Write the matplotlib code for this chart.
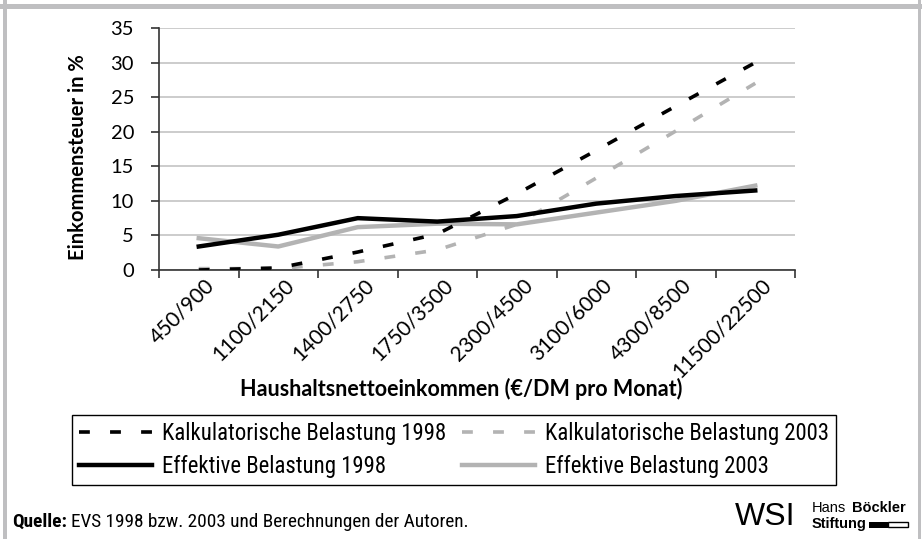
import matplotlib
matplotlib.use("Agg")
import matplotlib.pyplot as plt
from matplotlib.patches import Rectangle
from matplotlib.lines import Line2D
import matplotlib.transforms as mtransforms
from matplotlib import font_manager as fm

categories = ["450/900", "1100/2150", "1400/2750", "1750/3500",
              "2300/4500", "3100/6000", "4300/8500", "11500/22500"]
kalk_1998 = [0.0, 0.3, 2.6, 5.2, 11.0, 17.3, 23.7, 30.0]
kalk_2003 = [0.2, 0.2, 1.2, 2.9, 6.6, 13.3, 20.1, 27.0]
eff_1998 = [3.4, 5.1, 7.5, 7.0, 7.8, 9.6, 10.7, 11.5]
eff_2003 = [4.6, 3.4, 6.2, 6.7, 6.6, 8.3, 10.0, 12.2]
y_ticks = [0, 5, 10, 15, 20, 25, 30, 35]

labels = ["Kalkulatorische Belastung 1998", "Kalkulatorische Belastung 2003",
          "Effektive Belastung 1998", "Effektive Belastung 2003"]


def pick_condensed():
    cands = [("Roboto Condensed", "normal"), ("Open Sans Condensed", "normal"),
             ("Liberation Sans Narrow", "normal"), ("Open Sans", "condensed"),
             ("DejaVu Sans", "condensed"), ("Noto Sans", "condensed"),
             ("Roboto", "condensed")]
    for fam, st in cands:
        try:
            p = fm.findfont(fm.FontProperties(family=fam, stretch=st),
                            fallback_to_default=False)
        except Exception:
            continue
        low = p.lower()
        if st == "normal" or "condensed" in low or "narrow" in low:
            return [fam, "Lato", "DejaVu Sans"], st
    return ["Lato", "DejaVu Sans"], "normal"


FONT = ["Lato", "DejaVu Sans"]
NARROW, NSTRETCH = pick_condensed()
plt.rcParams["font.family"] = FONT

BLACK = "#000000"
GREY = "#b3b3b3"
FRAME = "#bfbfc1"

W, H = 922, 539
fig = plt.figure(figsize=(W / 100, H / 100), dpi=100)
renderer = fig.canvas.get_renderer()


def text_width(s, **kw):
    t = fig.text(0, 0, s, **kw)
    w = t.get_window_extent(renderer).width
    t.remove()
    return w


def fit_size(s, target_px, **kw):
    w = text_width(s, fontsize=10, **kw)
    return 10 * target_px / w


# frame
fig.add_artist(Rectangle((3 / W, 0), 4 / W, 1, transform=fig.transFigure,
                         color=FRAME, lw=0))
fig.add_artist(Rectangle((918 / W, 0), 3 / W, 1, transform=fig.transFigure,
                         color=FRAME, lw=0))
fig.add_artist(Rectangle((0, 1 - 9 / H), 1, 5 / H, transform=fig.transFigure,
                         color=FRAME, lw=0))

ax = fig.add_axes([159 / W, 1 - 270 / H, (795 - 159) / W, (270 - 28) / H])

x = [i + 0.5 for i in range(len(categories))]
DASH = (3.0, 5.6)
ax.plot(x, eff_2003, color=GREY, lw=3.2, solid_joinstyle="round", zorder=3)
ax.plot(x, eff_1998, color=BLACK, lw=3.2, solid_joinstyle="round", zorder=4)
ax.plot(x, kalk_2003, color=GREY, lw=2.6, dashes=DASH, dash_capstyle="butt", zorder=3)
ax.plot(x, kalk_1998, color=BLACK, lw=2.6, dashes=DASH, dash_capstyle="butt", zorder=5)

ax.set_xlim(0, len(categories))
ax.set_ylim(0, 35)
ax.set_yticks(y_ticks)
ax.set_yticklabels([str(v) for v in y_ticks], fontsize=14.5)
ax.grid(axis="y", color="#c8c8c8", lw=1.3)
ax.set_axisbelow(True)

ax.set_xticks(range(len(categories) + 1))
ax.set_xticklabels([])
ax.set_xticks(x, minor=True)
ax.set_xticklabels(categories, minor=True, rotation=45, ha="right",
                   va="center", rotation_mode="anchor", fontsize=15)
ax.tick_params(axis="x", which="minor", length=0, pad=0)
ax.tick_params(axis="x", which="major", length=6, width=1.2, color="#333333")
ax.tick_params(axis="y", length=6, width=1.2, color="#333333", pad=12)
offset = mtransforms.ScaledTranslation(13 / 100, -12 / 100, fig.dpi_scale_trans)
for lab in ax.xaxis.get_minorticklabels():
    lab.set_transform(lab.get_transform() + offset)

for s in ["top", "right"]:
    ax.spines[s].set_visible(False)
for s in ["left", "bottom"]:
    ax.spines[s].set_color("#333333")
    ax.spines[s].set_linewidth(1.2)

fig.text(78 / W, 1 - 157 / H, "Einkommensteuer in %", rotation=90,
         ha="center", va="center", fontsize=14.5, fontweight="bold")
fig.text(461 / W, 1 - 389 / H, "Haushaltsnettoeinkommen (€/DM pro Monat)",
         ha="center", va="center", fontsize=15.5, fontweight="bold")

# legend
leg_fs = fit_size(labels[0], 282, family=NARROW, fontstretch=NSTRETCH)
handles = [
    Line2D([], [], color=BLACK, lw=2.6, dashes=DASH, dash_capstyle="butt"),
    Line2D([], [], color=BLACK, lw=3.2),
    Line2D([], [], color=GREY, lw=2.6, dashes=DASH, dash_capstyle="butt"),
    Line2D([], [], color=GREY, lw=3.2),
]
leg_labels = [labels[0], labels[2], labels[1], labels[3]]
leg_pt = leg_fs
leg = fig.legend(handles, leg_labels, ncol=2, loc="upper left",
                 bbox_to_anchor=(72 / W, 1 - 415 / H),
                 frameon=True, fancybox=False,
                 edgecolor="#000000", framealpha=1,
                 handlelength=53 / leg_pt, handletextpad=7.2 / leg_pt,
                 columnspacing=11 / leg_pt, borderaxespad=0,
                 borderpad=0.3, labelspacing=0.45,
                 prop=fm.FontProperties(family=NARROW, stretch=NSTRETCH,
                                        size=leg_fs))
leg.get_frame().set_linewidth(1.0)

# footer
foot_y = 1 - 527 / H
q_fs = fit_size("Quelle: EVS 1998 bzw. 2003 und Berechnungen der Autoren.",
                453, family=NARROW, fontstretch=NSTRETCH)
t1 = fig.text(12 / W, foot_y, "Quelle:", ha="left", va="baseline",
              fontsize=q_fs, fontweight="bold", family=NARROW,
              fontstretch=NSTRETCH)
w1 = t1.get_window_extent(renderer).width
fig.text((12 + w1 + 4) / W, foot_y, "EVS 1998 bzw. 2003 und Berechnungen der Autoren.",
         ha="left", va="baseline", fontsize=q_fs, family=NARROW,
         fontstretch=NSTRETCH)

# logo
LOGO = ["Liberation Sans", "DejaVu Sans"]
fig.text(735 / W, 1 - 525 / H, "WSI", ha="left", va="baseline",
         fontsize=23, fontweight="normal", family=LOGO)
t2 = fig.text(812 / W, 1 - 512.5 / H, "Hans", ha="left", va="baseline",
              fontsize=10.5, family=LOGO)
w2 = t2.get_window_extent(renderer).width
fig.text((812 + w2 + 6) / W, 1 - 512.5 / H, "Böckler", ha="left", va="baseline",
         fontsize=10.5, fontweight="bold", family=LOGO)
fig.text(812 / W, 1 - 528 / H, "Stiftung", ha="left", va="baseline",
         fontsize=10.5, fontweight="bold", family=LOGO)
fig.add_artist(Rectangle((869 / W, 1 - 527.5 / H), 19 / W, 6 / H,
                         transform=fig.transFigure, color="#000000", lw=0))
fig.add_artist(Rectangle((888 / W, 1 - 527 / H), 20 / W, 5 / H,
                         transform=fig.transFigure, facecolor="white",
                         edgecolor="#000000", lw=1))

fig.savefig("out.png", dpi=100)
